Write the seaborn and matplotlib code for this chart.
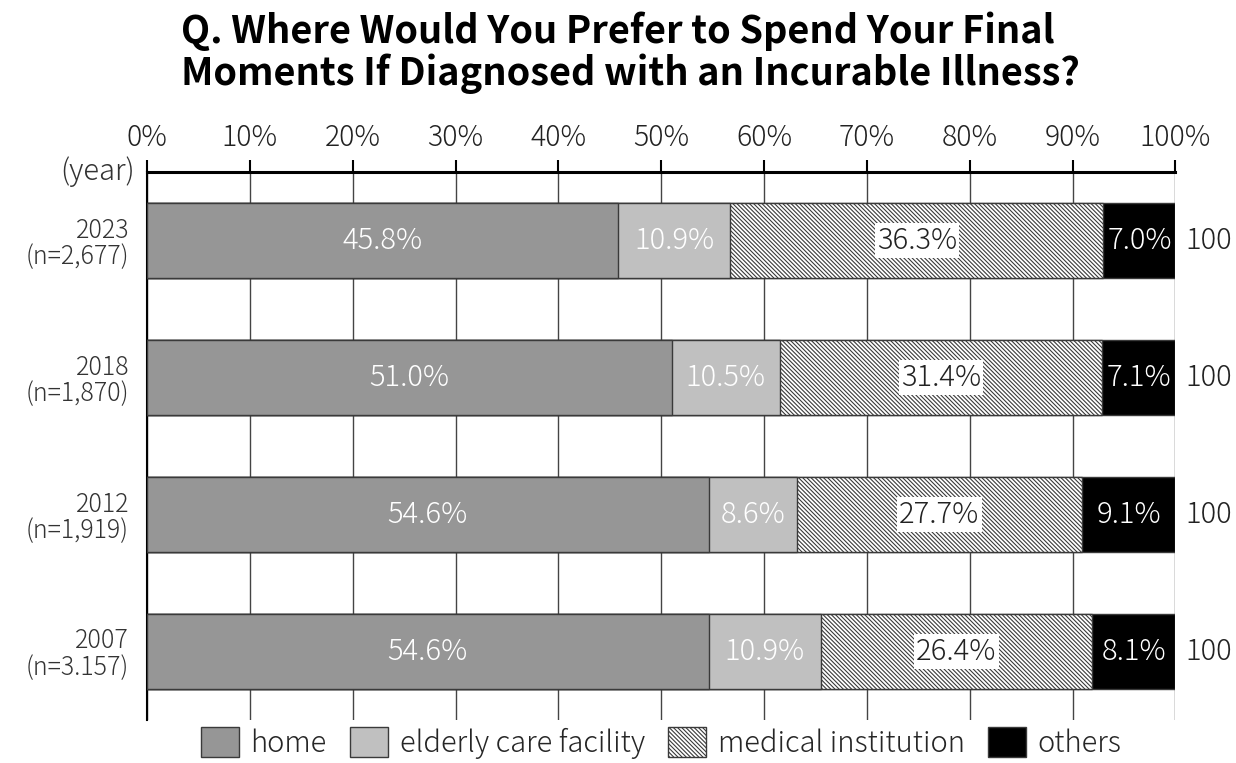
import matplotlib
matplotlib.use('Agg')
import matplotlib.pyplot as plt
from matplotlib.patches import Patch
import numpy as np
import pandas as pd
import seaborn as sns

# data
years = ['2023\n(n=2,677)', '2018\n(n=1,870)', '2012\n(n=1,919)', '2007\n(n=3.157)']
home = [45.8, 51.0, 54.6, 54.6]
elderly = [10.9, 10.5, 8.6, 10.9]
medical = [36.3, 31.4, 27.7, 26.4]
others = [7.0, 7.1, 9.1, 8.1]
totals = ['100', '100', '100', '100']
series_names = ['home', 'elderly care facility', 'medical institution', 'others']

sns.set_theme(style='white')
plt.rcParams['font.family'] = ['Noto Sans CJK JP', 'DejaVu Sans']
plt.rcParams['font.weight'] = 'light'
plt.rcParams['hatch.linewidth'] = 0.8
plt.rcParams['hatch.color'] = 'black'

df = pd.DataFrame({'year': years, 'home': home, 'elderly': elderly,
                   'medical': medical, 'others': others})
c1 = df['home']
c2 = c1 + df['elderly']
c3 = c2 + df['medical']
c4 = c3 + df['others']

fig = plt.figure(figsize=(12.36, 7.63), dpi=100)
ax = fig.add_axes([0.119, 0.0564, 0.832, 0.718])

colors = ['#969696', '#c0c0c0', 'white', 'black']
hatches = [None, None, '\\' * 8, None]
edge = '#3a3a3a'

# stacked by layering cumulative sums, widest first
for cum, col, h in zip([c4, c3, c2, c1], colors[::-1], hatches[::-1]):
    sns.barplot(x=cum, y=df['year'], order=years, orient='h', color=col,
                saturation=1, width=0.55, edgecolor=edge, linewidth=1,
                hatch=h, ax=ax, zorder=3)

ax.set_xlim(0, 100)
ax.set_ylim(3.5, -0.5)
ax.set_xticks(np.arange(0, 101, 10))
ax.set_xticklabels([f'{v}%' for v in range(0, 101, 10)])
ax.xaxis.tick_top()
ax.tick_params(axis='x', top=True, bottom=False, direction='out', length=9,
               width=1.5, color='black', labelsize=20.5, pad=5, labelcolor='#222222')
ax.tick_params(axis='y', left=False, labelsize=18, labelcolor='#333333', pad=7)
ax.set_yticklabels(years, multialignment='right', linespacing=1.0)
ax.set_xlabel('')
ax.set_ylabel('')
ax.grid(axis='x', color='#444444', linewidth=1, zorder=0)
ax.set_axisbelow(True)
for s in ['right', 'bottom']:
    ax.spines[s].set_visible(False)
ax.spines['top'].set_linewidth(2.2)
ax.spines['top'].set_color('black')
ax.spines['left'].set_linewidth(1.5)
ax.spines['left'].set_color('black')

ax.text(-1.2, -0.5, '(year)', ha='right', va='center', fontsize=21,
        color='#333333')

# segment labels
lefts = [np.zeros(4), c1, c2, c3]
vals = [home, elderly, medical, others]
for k in range(4):
    for i in range(4):
        x = lefts[k][i] + vals[k][i] / 2
        txt = f'{vals[k][i]:.1f}%'
        if k == 2:
            ax.text(x, i, txt, ha='center', va='center', fontsize=21,
                    color='#222222', zorder=5,
                    bbox=dict(facecolor='white', edgecolor='none', pad=1.5))
        else:
            ax.text(x, i, txt, ha='center', va='center', fontsize=21,
                    color='white', zorder=5)

for i in range(4):
    ax.text(101, i, totals[i], ha='left', va='center', fontsize=21,
            color='#222222')

handles = [Patch(facecolor=colors[k], edgecolor=edge, hatch=hatches[k],
                 label=series_names[k]) for k in range(4)]
fig.legend(handles=handles, loc='center', bbox_to_anchor=(0.535, 0.026),
           ncol=4, frameon=False, fontsize=21, handlelength=1.3,
           handleheight=1.2, handletextpad=0.4, columnspacing=0.8,
           borderpad=0.1)

fig.text(181 / 1236, 0.985,
         'Q. Where Would You Prefer to Spend Your Final\nMoments If Diagnosed with an Incurable Illness?',
         ha='left', va='top', fontsize=27.3, fontweight='bold',
         linespacing=1.08, color='black')

fig.savefig('out.png', dpi=100)
